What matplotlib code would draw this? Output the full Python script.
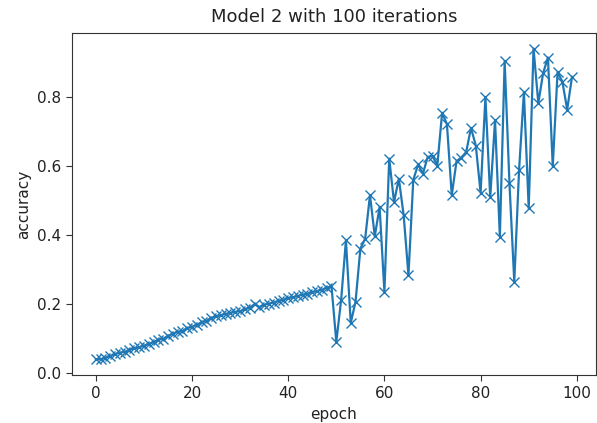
import matplotlib
matplotlib.use("Agg")
import matplotlib.pyplot as plt

epochs = list(range(100))
accuracy = [
    0.040, 0.041, 0.045, 0.050, 0.055, 0.060, 0.062, 0.068, 0.072, 0.075,
    0.080, 0.085, 0.090, 0.097, 0.100, 0.108, 0.115, 0.120, 0.122, 0.130,
    0.135, 0.140, 0.148, 0.152, 0.160, 0.165, 0.168, 0.172, 0.175, 0.178,
    0.180, 0.185, 0.190, 0.200, 0.192, 0.198, 0.202, 0.205, 0.210, 0.213,
    0.218, 0.220, 0.224, 0.228, 0.230, 0.235, 0.238, 0.242, 0.248, 0.252,
    0.091, 0.212, 0.385, 0.146, 0.207, 0.361, 0.390, 0.516, 0.397, 0.482,
    0.236, 0.622, 0.496, 0.564, 0.458, 0.284, 0.560, 0.605, 0.578, 0.627,
    0.629, 0.602, 0.755, 0.722, 0.516, 0.615, 0.625, 0.641, 0.711, 0.660,
    0.523, 0.800, 0.510, 0.733, 0.396, 0.904, 0.550, 0.265, 0.590, 0.814,
    0.478, 0.941, 0.783, 0.870, 0.915, 0.600, 0.873, 0.845, 0.764, 0.859,
]

fig = plt.figure(figsize=(5.97, 4.23), dpi=100)
ax = fig.add_axes([0.1206, 0.1135, 0.8774, 0.8085])
ax.plot(epochs, accuracy, marker="x", color="#1f77b4", linewidth=1.6, markersize=7)
ax.set_title("Model 2 with 100 iterations", fontsize=13, pad=8, color="#222222")
ax.set_xlabel("epoch", fontsize=11, color="#222222")
ax.set_ylabel("accuracy", fontsize=11, color="#222222")
ax.set_xticks([0, 20, 40, 60, 80, 100])
ax.set_yticks([0.0, 0.2, 0.4, 0.6, 0.8])
ax.tick_params(labelsize=11, length=4.5, labelcolor="#222222", color="#333333")
for s in ax.spines.values():
    s.set_color("#333333")
fig.savefig("out.png", dpi=100)
